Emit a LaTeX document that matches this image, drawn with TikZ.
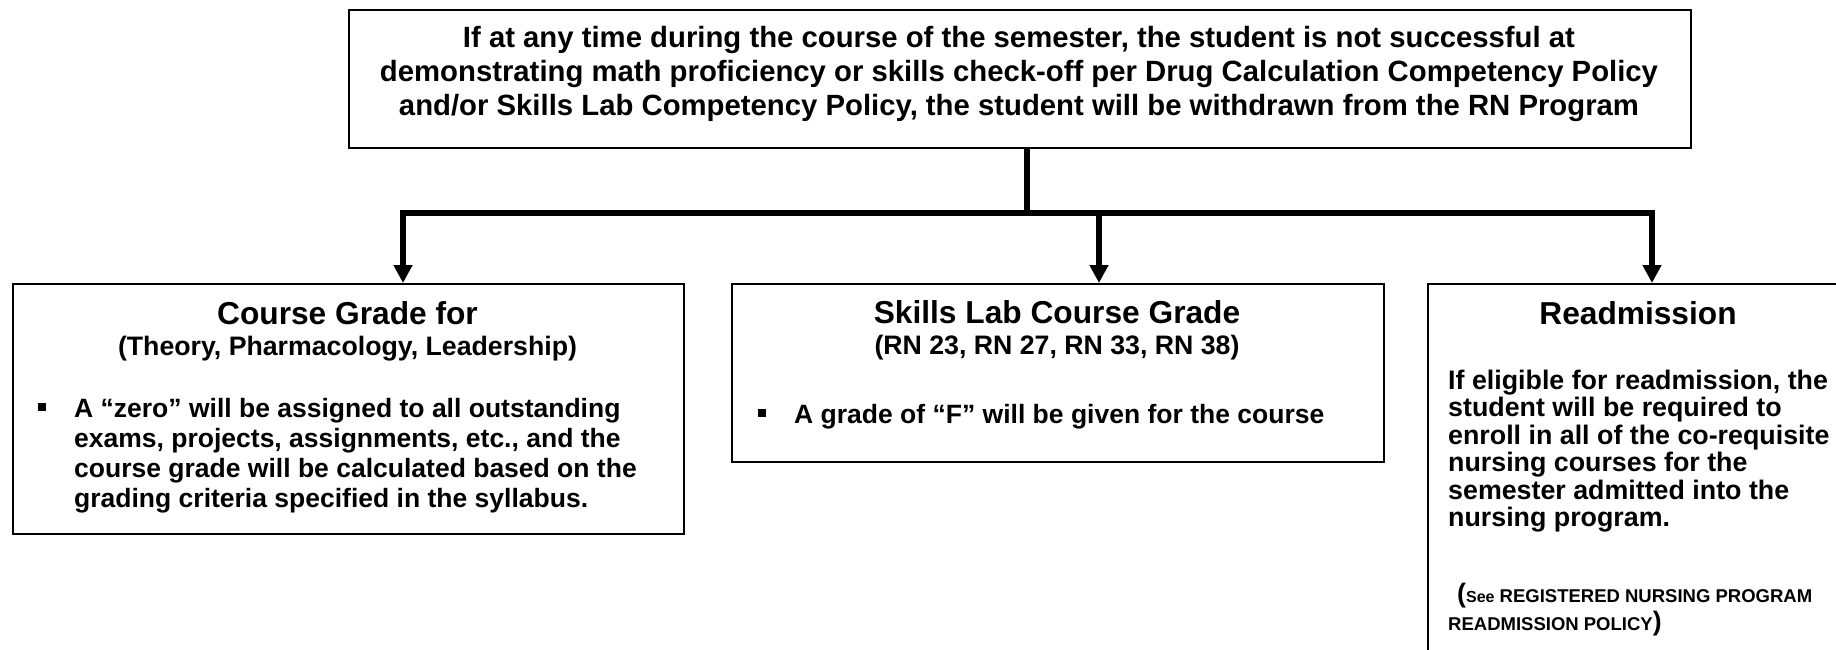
\documentclass[tikz,border=0pt]{standalone}
\usepackage{fontspec}
\setmainfont{Liberation Sans}
\usetikzlibrary{arrows.meta,positioning}

\tikzset{
  box/.style={draw, line width=1.6pt, inner sep=0pt},
  link/.style={line width=5.5pt},
  arrowlink/.style={line width=5.5pt, -{Triangle[width=18pt,length=18pt]}},
  headtext/.style={inner sep=0pt, font=\fontsize{31.7}{36}\selectfont\bfseries},
  subtext/.style={inner sep=0pt, font=\fontsize{26.7}{30}\selectfont\bfseries},
  bodytext/.style={inner sep=0pt, align=left, font=\fontsize{26.5}{30}\selectfont\bfseries},
}
\newcommand{\sqbullet}{\llap{\rule[6pt]{8pt}{8pt}\hspace{28pt}}}

\begin{document}
\begin{tikzpicture}[x=1pt,y=1pt]
            \useasboundingbox (0,0) rectangle (1836,-649);

            \coordinate (hub) at (1027,-213);
            \coordinate (j1) at (403,-213);
            \coordinate (j2) at (1099,-213);
            \coordinate (j3) at (1652,-213);

            % boxes
            \node[box, anchor=north west, minimum width=1342pt, minimum height=138pt] (policy) at (348,-9) {};
            \node[box, anchor=north west, minimum width=671pt, minimum height=250pt] (grade) at (12,-283) {};
            \node[box, anchor=north west, minimum width=652pt, minimum height=178pt] (skills) at (731,-283) {};
            \node[box, anchor=north west, minimum width=430pt, minimum height=380pt] (admit) at (1427,-283) {};

            \draw[link] (policy.south -| hub) -- (hub);
            \draw[arrowlink] (hub) -| (j1 |- grade.north);
            \draw[arrowlink] (hub) -| (j3 |- admit.north);
            \draw[arrowlink] (j2) -- (j2 |- skills.north);

            % texts
            \node[inner sep=0pt, align=center, anchor=base, font=\fontsize{29.3}{34}\selectfont\bfseries] (policytext) at (1019,-115)
              {If at any time during the course of the semester, the student is not successful at\\
               demonstrating math proficiency or skills check-off per Drug Calculation Competency Policy\\
               and/or Skills Lab Competency Policy, the student will be withdrawn from the RN Program};

            \node[headtext, anchor=base] (gradehead) at (347.5,-324) {Course Grade for};
            \node[subtext, anchor=base] (gradesub) at (347.5,-355) {(Theory, Pharmacology, Leadership)};
            \node[bodytext, anchor=base west] (gradebody) at (74,-507)
              {\sqbullet A “zero” will be assigned to all outstanding\\
               exams, projects, assignments, etc., and the\\
               course grade will be calculated based on the\\
               grading criteria specified in the syllabus.};

            \node[headtext, anchor=base] (skillshead) at (1057,-323) {Skills Lab Course Grade};
            \node[subtext, anchor=base] (skillssub) at (1057,-354) {(RN 23, RN 27, RN 33, RN 38)};
            \node[bodytext, anchor=base west] (skillsbody) at (794,-423)
              {\sqbullet A grade of “F” will be given for the course};

            \node[headtext, anchor=base] (admithead) at (1638,-324) {Readmission};
            \node[bodytext, anchor=base west, font=\fontsize{26.8}{27.5}\selectfont\bfseries] (admitbody) at (1448,-526.5)
              {If eligible for readmission, the\\
               student will be required to\\
               enroll in all of the co-requisite\\
               nursing courses for the\\
               semester admitted into the\\
               nursing program.};
            \node[bodytext, anchor=base west, font=\fontsize{18.5}{28}\selectfont\bfseries] (admitnote) at (1448,-630)
              {\hspace*{9pt}{\fontsize{26.7}{28}\selectfont(}{\fontsize{16}{28}\selectfont See} REGISTERED NURSING PROGRAM\\
               READMISSION POLICY{\fontsize{26.7}{28}\selectfont)}};

\end{tikzpicture}
\end{document}
